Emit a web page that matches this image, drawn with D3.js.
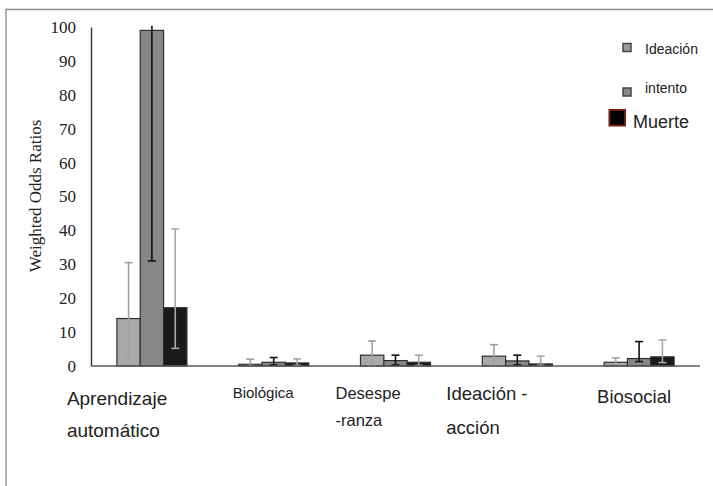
<!DOCTYPE html>
<html>
<head>
<meta charset="utf-8">
<script src="https://cdn.jsdelivr.net/npm/d3@7/dist/d3.min.js"></script>
<style>
  html, body { margin: 0; padding: 0; background: #fff; }
  svg { display: block; }
</style>
</head>
<body>
<svg id="chart" width="713" height="486"></svg>
<script>
// Groups of predictors (label lines as printed under each group)
const categories = ["Aprendizaje automático", "Biológica", "Desesperanza", "Ideación-acción", "Biosocial"];
const categoryLines = [["Aprendizaje", "automático"], ["Biológica"], ["Desespe", "-ranza"], ["Ideación -", "acción"], ["Biosocial"]];
const seriesNames = ["Ideación", "intento", "Muerte"];

// Weighted odds ratios per series, in category order
const ideacion = [14, 0.5, 3.2, 2.9, 1.1];
const intento  = [99, 1.1, 1.6, 1.5, 2.2];
const muerte   = [17.2, 0.9, 1.1, 0.6, 2.7];

// Confidence intervals [low, high]
const ideacionCI = [[2.6, 30.5], [0.1, 2.0], [0.1, 7.4], [0.1, 6.3], [0.5, 2.4]];
const intentoCI  = [[31, 100.4], [0.3, 2.5], [0.3, 3.2], [0.3, 3.2], [1.3, 7.2]];
const muerteCI   = [[5.2, 40.4], [0.2, 2.1], [0.2, 3.2], [0.2, 2.9], [1.0, 7.7]];

const yTicks = [0, 10, 20, 30, 40, 50, 60, 70, 80, 90, 100];

// ---- styling ----
const barFill  = ["#a9a9a9", "#878787", "#1a1a1a"];
const errColor = ["#a0a0a0", "#111111", "#a8a8a8"];
const labelStyle = [
  { dx: -50, size: 19,   base: [405, 437] },
  { dx: -6,  size: 15,   base: [398] },
  { dx: -25, size: 16.5, base: [399, 426] },
  { dx: -36, size: 18.5, base: [400, 434] },
  { dx: -7,  size: 18.5, base: [403] }
];

const svg = d3.select("#chart");
const values = [ideacion, intento, muerte];
const cis = [ideacionCI, intentoCI, muerteCI];

const x0 = d3.scaleBand().domain(categories).range([91, 700]).paddingInner(0.425).paddingOuter(0.2125);
const x1 = d3.scaleBand().domain(seriesNames).range([0, x0.bandwidth()]);
const y = d3.scaleLinear().domain([0, 100]).range([366, 27]);

// outer frame (top and left edges)
svg.append("path")
  .attr("d", "M6,486 L6,9.5 L713,9.5")
  .attr("fill", "none").attr("stroke", "#8a8a8a").attr("stroke-width", 1.3);

// y axis: line and labels, no tick marks
const yAxis = svg.append("g").attr("transform", "translate(91,0)")
  .call(d3.axisLeft(y).tickValues(yTicks).tickSize(0).tickPadding(15));
yAxis.select(".domain").attr("stroke", "#333").attr("stroke-width", 1.4);
yAxis.selectAll("text")
  .attr("font-family", "'Liberation Serif', 'Times New Roman', serif")
  .attr("font-size", 17).attr("fill", "#222");

svg.append("text")
  .attr("transform", "translate(41,196) rotate(-90)")
  .attr("text-anchor", "middle")
  .attr("font-family", "'Liberation Serif', 'Times New Roman', serif")
  .attr("font-size", 17).attr("fill", "#222")
  .text("Weighted Odds Ratios");

// bars
const groups = svg.append("g").selectAll("g")
  .data(categories).join("g")
  .attr("transform", d => `translate(${x0(d)},0)`);

seriesNames.forEach((s, si) => {
  groups.append("rect")
    .attr("x", x1(s))
    .attr("y", (d, i) => y(values[si][i]))
    .attr("width", x1.bandwidth())
    .attr("height", (d, i) => y(0) - y(values[si][i]))
    .attr("fill", barFill[si])
    .attr("stroke", "#2e2e2e").attr("stroke-width", 1.2);
});

// x axis baseline
svg.append("line")
  .attr("x1", 91).attr("x2", 700).attr("y1", y(0)).attr("y2", y(0))
  .attr("stroke", "#5a5a5a").attr("stroke-width", 1.6);

// error bars (no cap where the interval runs past the axis maximum)
seriesNames.forEach((s, si) => {
  const cx = x1(s) + x1.bandwidth() / 2;
  const eg = groups.append("g").attr("stroke", errColor[si]).attr("stroke-width", 1.6);
  eg.append("line")
    .attr("x1", cx).attr("x2", cx)
    .attr("y1", (d, i) => y(cis[si][i][0]))
    .attr("y2", (d, i) => y(cis[si][i][1]));
  eg.append("line")
    .attr("x1", cx - 4).attr("x2", cx + 4)
    .attr("y1", (d, i) => y(cis[si][i][0]))
    .attr("y2", (d, i) => y(cis[si][i][0]));
  eg.append("line")
    .attr("x1", cx - 4).attr("x2", cx + 4)
    .attr("y1", (d, i) => y(cis[si][i][1]))
    .attr("y2", (d, i) => y(cis[si][i][1]))
    .attr("display", (d, i) => cis[si][i][1] > y.domain()[1] ? "none" : null);
});

// category labels
groups.each(function (d, i) {
  const st = labelStyle[i];
  categoryLines[i].forEach((line, li) => {
    d3.select(this).append("text")
      .attr("x", st.dx)
      .attr("y", st.base[li])
      .attr("font-family", "'Liberation Sans', Arial, sans-serif")
      .attr("font-size", st.size)
      .attr("fill", "#222")
      .text(line);
  });
});

// legend
const legend = [
  { sq: [623, 43.5, 8, 8], fill: "#9a9a9a", stroke: "#444", sw: 1.5, tx: 645, ty: 54, size: 14 },
  { sq: [623, 88, 8, 8],   fill: "#888888", stroke: "#444", sw: 1.5, tx: 645, ty: 93, size: 14 },
  { sq: [609.5, 110, 15.5, 15.5], fill: "#000", stroke: "#6e1f10", sw: 2, tx: 633, ty: 128, size: 18 }
];
const lg = svg.append("g");
legend.forEach((l, i) => {
  lg.append("rect")
    .attr("x", l.sq[0]).attr("y", l.sq[1]).attr("width", l.sq[2]).attr("height", l.sq[3])
    .attr("fill", l.fill).attr("stroke", l.stroke).attr("stroke-width", l.sw);
  lg.append("text")
    .attr("x", l.tx).attr("y", l.ty)
    .attr("font-family", "'Liberation Sans', Arial, sans-serif")
    .attr("font-size", l.size).attr("fill", "#222")
    .text(seriesNames[i]);
});
</script>
</body>
</html>
